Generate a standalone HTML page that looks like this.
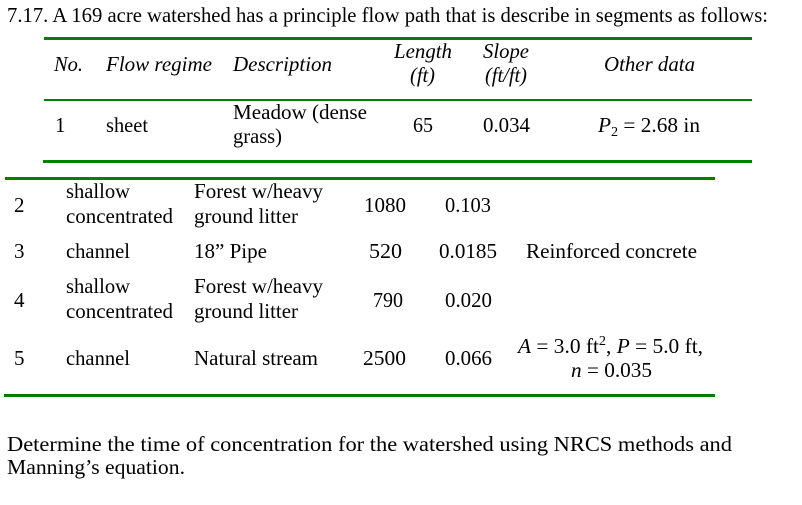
<!DOCTYPE html>
<html>
<head>
<meta charset="utf-8">
<style>
  html, body { margin:0; padding:0; background:#ffffff; }
  body { width:802px; height:505px; overflow:hidden; font-family: "Liberation Serif", "Noto Serif CJK SC", "Times New Roman", "DejaVu Serif", serif; }
  svg { display:block; }
  svg text { font-family: "Liberation Serif", "Noto Serif CJK SC", "Times New Roman", "DejaVu Serif", serif; font-size:21px; fill:#000; }
  .i { font-style: italic; }
</style>
</head>
<body>
<svg width="802" height="505" viewBox="0 0 802 505" xmlns="http://www.w3.org/2000/svg">
  <!-- Title -->
  <text x="7" y="22" textLength="761" lengthAdjust="spacingAndGlyphs">7.17. A 169 acre watershed has a principle flow path that is describe in segments as follows:</text>

  <!-- Table 1 rules -->
  <rect x="44" y="37" width="708" height="3" fill="#008000"/>
  <rect x="44" y="99" width="708" height="2" fill="#008000"/>
  <rect x="43" y="160" width="709" height="3" fill="#008000"/>

  <!-- Header -->
  <text class="i" x="54" y="71" textLength="29" lengthAdjust="spacingAndGlyphs">No.</text>
  <text class="i" x="106" y="71" textLength="106" lengthAdjust="spacingAndGlyphs">Flow regime</text>
  <text class="i" x="233" y="71" textLength="99" lengthAdjust="spacingAndGlyphs">Description</text>
  <text class="i" x="394" y="58" textLength="58" lengthAdjust="spacingAndGlyphs">Length</text>
  <text class="i" x="410" y="82" textLength="25" lengthAdjust="spacingAndGlyphs">(ft)</text>
  <text class="i" x="483" y="58" textLength="46" lengthAdjust="spacingAndGlyphs">Slope</text>
  <text class="i" x="485" y="82" textLength="42" lengthAdjust="spacingAndGlyphs">(ft/ft)</text>
  <text class="i" x="604" y="71" textLength="91" lengthAdjust="spacingAndGlyphs">Other data</text>

  <!-- Row 1 -->
  <text x="55" y="132">1</text>
  <text x="106" y="132" textLength="42" lengthAdjust="spacingAndGlyphs">sheet</text>
  <text x="233" y="119" textLength="134" lengthAdjust="spacingAndGlyphs">Meadow (dense</text>
  <text x="233" y="143" textLength="49" lengthAdjust="spacingAndGlyphs">grass)</text>
  <text x="413" y="132" textLength="20" lengthAdjust="spacingAndGlyphs">65</text>
  <text x="483" y="132" textLength="47" lengthAdjust="spacingAndGlyphs">0.034</text>
  <text x="598" y="132" textLength="102" lengthAdjust="spacingAndGlyphs"><tspan class="i">P</tspan><tspan font-size="14" dy="4">2</tspan><tspan dy="-4"> = 2.68 in</tspan></text>

  <!-- Table 2 rules -->
  <rect x="5" y="177" width="710" height="3" fill="#008000"/>
  <rect x="4" y="394" width="711" height="3" fill="#008000"/>

  <!-- Row 2 -->
  <text x="14" y="212">2</text>
  <text x="66" y="198" textLength="64" lengthAdjust="spacingAndGlyphs">shallow</text>
  <text x="66" y="223" textLength="107" lengthAdjust="spacingAndGlyphs">concentrated</text>
  <text x="194" y="198" textLength="129" lengthAdjust="spacingAndGlyphs">Forest w/heavy</text>
  <text x="194" y="223" textLength="104" lengthAdjust="spacingAndGlyphs">ground litter</text>
  <text x="364" y="212" textLength="42" lengthAdjust="spacingAndGlyphs">1080</text>
  <text x="445" y="212" textLength="46" lengthAdjust="spacingAndGlyphs">0.103</text>

  <!-- Row 3 -->
  <text x="14" y="258">3</text>
  <text x="66" y="258" textLength="64" lengthAdjust="spacingAndGlyphs">channel</text>
  <text x="194" y="258" textLength="73" lengthAdjust="spacingAndGlyphs">18” Pipe</text>
  <text x="369" y="258" textLength="33" lengthAdjust="spacingAndGlyphs">520</text>
  <text x="439" y="258" textLength="58" lengthAdjust="spacingAndGlyphs">0.0185</text>
  <text x="526" y="258" textLength="171" lengthAdjust="spacingAndGlyphs">Reinforced concrete</text>

  <!-- Row 4 -->
  <text x="14" y="307">4</text>
  <text x="66" y="293" textLength="64" lengthAdjust="spacingAndGlyphs">shallow</text>
  <text x="66" y="318" textLength="107" lengthAdjust="spacingAndGlyphs">concentrated</text>
  <text x="194" y="293" textLength="129" lengthAdjust="spacingAndGlyphs">Forest w/heavy</text>
  <text x="194" y="318" textLength="104" lengthAdjust="spacingAndGlyphs">ground litter</text>
  <text x="373" y="307" textLength="30" lengthAdjust="spacingAndGlyphs">790</text>
  <text x="445" y="307" textLength="47" lengthAdjust="spacingAndGlyphs">0.020</text>

  <!-- Row 5 -->
  <text x="14" y="365">5</text>
  <text x="66" y="365" textLength="64" lengthAdjust="spacingAndGlyphs">channel</text>
  <text x="194" y="365" textLength="124" lengthAdjust="spacingAndGlyphs">Natural stream</text>
  <text x="363" y="365" textLength="43" lengthAdjust="spacingAndGlyphs">2500</text>
  <text x="445" y="365" textLength="47" lengthAdjust="spacingAndGlyphs">0.066</text>
  <text x="518" y="353" textLength="185" lengthAdjust="spacingAndGlyphs"><tspan class="i">A</tspan> = 3.0 ft<tspan font-size="14" dy="-8">2</tspan><tspan dy="8">, </tspan><tspan class="i">P</tspan> = 5.0 ft,</text>
  <text x="571" y="377" textLength="81" lengthAdjust="spacingAndGlyphs"><tspan class="i">n</tspan> = 0.035</text>

  <!-- Bottom text -->
  <text x="7" y="451" textLength="725" lengthAdjust="spacingAndGlyphs">Determine the time of concentration for the watershed using NRCS methods and</text>
  <text x="7" y="474" textLength="178" lengthAdjust="spacingAndGlyphs">Manning’s equation.</text>
</svg>
</body>
</html>
